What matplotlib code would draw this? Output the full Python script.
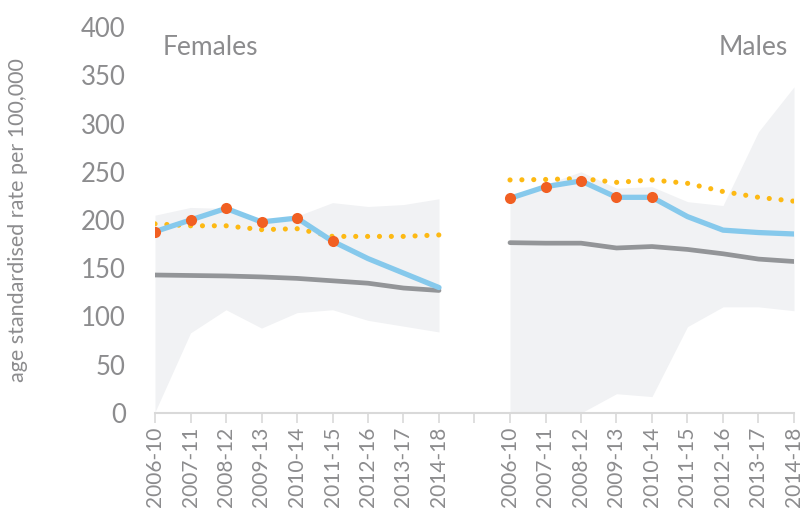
import numpy as np
import matplotlib
matplotlib.use("Agg")
import matplotlib.pyplot as plt

plt.rcParams['font.family'] = ['Lato', 'DejaVu Sans']

periods = ["2006-10", "2007-11", "2008-12", "2009-13", "2010-14",
           "2011-15", "2012-16", "2013-17", "2014-18"]

# Females
fem_local = [188, 200, 212, 198, 202, 178, 160, 145, 130]
fem_england = [143, 142.5, 142, 141, 139.5, 137, 134.5, 129.5, 127]
fem_comparator = [196, 194, 194, 190, 191, 183, 183, 183, 184.5]
fem_range_hi = [205, 213, 212, 199, 204, 218, 214, 216, 222]
fem_range_lo = [1, 83, 107, 88, 104, 107, 96, 90, 84]
fem_flagged = [True, True, True, True, True, True, False, False, False]

# Males
male_local = [222.5, 234.5, 240.5, 223.5, 223.5, 203.5, 189.5, 187, 185.5]
male_england = [176.5, 176, 176, 171, 172.5, 169.5, 165, 159.5, 157]
male_comparator = [241.5, 242, 243, 239, 241.5, 238, 229.5, 223.5, 219.5]
male_range_hi = [221, 237, 250, 233, 234.5, 219, 215, 291.5, 338]
male_range_lo = [0, 0, 0, 20, 17, 89.5, 110, 110, 106]
male_flagged = [True, True, True, True, True, False, False, False, False]

yticks = [0, 50, 100, 150, 200, 250, 300, 350, 400]

BLUE = "#86c9ec"
GREY = "#939598"
ORANGE = "#f15f22"
YELLOW = "#fdb913"
SHADE = "#f1f2f4"
TEXT = "#8c8c8e"
AXIS = "#d9d9d9"

n = len(periods)
x_f = np.arange(n)
x_m = np.arange(n) + n + 1
labels = periods + [""] + periods

fig = plt.figure(figsize=(8.04, 5.08), dpi=100)
ax = fig.add_axes([155 / 804, 1 - 413 / 508, (794 - 155) / 804, (413 - 27) / 508])

for xs, lo, hi, loc, eng, comp, flag in [
    (x_f, fem_range_lo, fem_range_hi, fem_local, fem_england, fem_comparator, fem_flagged),
    (x_m, male_range_lo, male_range_hi, male_local, male_england, male_comparator, male_flagged),
]:
    ax.fill_between(xs, lo, hi, color=SHADE, lw=0, zorder=1)
    ax.plot(xs, eng, color=GREY, lw=3.4, solid_capstyle="round", zorder=2)
    ax.plot(xs, comp, color=YELLOW, lw=3.7, linestyle=(0, (0.01, 2.3)),
            dash_capstyle="round", zorder=3)
    ax.plot(xs, loc, color=BLUE, lw=3.8, solid_capstyle="round", zorder=4)
    fx = [x for x, f in zip(xs, flag) if f]
    fy = [v for v, f in zip(loc, flag) if f]
    ax.plot(fx, fy, "o", color=ORANGE, ms=8, mec="none", zorder=5)

ax.set_xlim(0, 2 * n)
ax.set_ylim(0, 400)
ax.set_xticks(np.arange(2 * n + 1))
ax.set_xticklabels(labels, rotation=90, fontsize=15, color=TEXT)
ax.set_yticks(yticks)
ax.set_yticklabels([str(t) for t in yticks], fontsize=18.5, color=TEXT)
ax.tick_params(axis="y", length=0, pad=21)
ax.tick_params(axis="x", length=7, width=1.2, color=AXIS, pad=3)
for side in ["top", "right", "left"]:
    ax.spines[side].set_visible(False)
ax.spines["bottom"].set_color(AXIS)
ax.spines["bottom"].set_linewidth(1.5)

ax.set_ylabel("age standardised rate per 100,000", fontsize=15.5, color=TEXT)
ax.yaxis.set_label_coords(-0.198, 0.5)

ax.text(0.0125, 0.948, "Females", transform=ax.transAxes, fontsize=19,
        color=TEXT, ha="left", va="center")
ax.text(0.99, 0.948, "Males", transform=ax.transAxes, fontsize=19,
        color=TEXT, ha="right", va="center")

fig.savefig("out.png", dpi=100)
